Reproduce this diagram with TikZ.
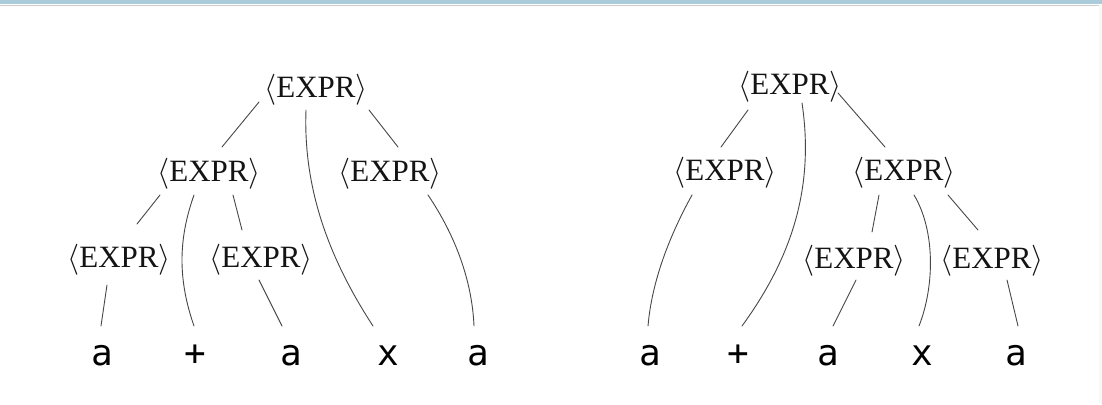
\documentclass[tikz,border=0pt]{standalone}
\usepackage{fix-cm}
\usepackage{fontspec}
\setmainfont{Liberation Serif}
\newfontfamily\termfont{DejaVu Sans Mono}
\usetikzlibrary{calc}
\tikzset{
  nt/.style={anchor=base, inner sep=0pt, text=black!92, font=\fontsize{31}{31}\selectfont},
  tm/.style={anchor=base, inner sep=0pt, text=black, font=\termfont\fontsize{36}{36}\selectfont},
  br/.style={line width=0.9pt, draw=black!72, line cap=round}
}
\newcommand{\EX}{$\langle$EXPR$\rangle$}
\begin{document}
\begin{tikzpicture}[x=1pt,y=-1pt]
\useasboundingbox (0,0) rectangle (1102,404);
\fill[white] (0,0) rectangle (1102,404);
\fill[fill={rgb,255:red,170;green,203;blue,218}] (0,0) rectangle (1102,4.5);
\draw[black!20, line width=0.5pt] (0,5) -- (1102,5);
\fill[fill={rgb,255:red,244;green,249;blue,251}] (1099,5) rectangle (1102,404);

% ---------------- left tree ----------------
\node[nt] (Lr) at (316,97) {\EX};
\node[nt] (La) at (209,181) {\EX};
\node[nt] (Lb) at (390,181) {\EX};
\node[nt] (Lc) at (119,267) {\EX};
\node[nt] (Ld) at (261,267) {\EX};
\node[tm] (Lt1) at (102,365) {a};
\node[tm] (Lt2) at (195,365) {+};
\node[tm] (Lt3) at (291,365) {a};
\node[tm] (Lt4) at (388,365) {x};
\node[tm] (Lt5) at (478,365) {a};

\draw[br] ($(Lr.base)+(-57,5)$) -- ($(La.base)+(13,-34)$);
\draw[br] ($(Lr.base)+(-10,13)$) .. controls ($(Lr.base)+(-13,93)$) and ($(Lt4.base)+(-58,-105)$) .. ($(Lt4.base)+(-15,-39)$);
\draw[br] ($(Lr.base)+(53,13)$) -- ($(Lb.base)+(8,-34)$);
\draw[br] ($(La.base)+(-49,14)$) -- ($(Lc.base)+(18,-43)$);
\draw[br] ($(La.base)+(-15,14)$) .. controls ($(La.base)+(-31,59)$) and ($(Lt2.base)+(-17,-85)$) .. ($(Lt2.base)+(-1,-39)$);
\draw[br] ($(La.base)+(24,14)$) -- ($(Ld.base)+(-19,-37)$);
\draw[br] ($(Lb.base)+(38,14)$) .. controls ($(Lb.base)+(65,54)$) and ($(Lt5.base)+(-6,-85)$) .. ($(Lt5.base)+(-4,-39)$);
\draw[br] ($(Lc.base)+(-12,18)$) -- ($(Lt1.base)+(-1,-39)$);
\draw[br] ($(Ld.base)+(-2,13)$) -- ($(Lt3.base)+(-9,-39)$);

% ---------------- right tree ----------------
\node[nt] (Rr) at (790,94) {\EX};
\node[nt] (Ra) at (725,180) {\EX};
\node[nt] (Rb) at (904,180) {\EX};
\node[nt] (Rc) at (854,268) {\EX};
\node[nt] (Rd) at (992,268) {\EX};
\node[tm] (Rt1) at (650,365) {a};
\node[tm] (Rt2) at (738,365) {+};
\node[tm] (Rt3) at (828,365) {a};
\node[tm] (Rt4) at (922,365) {x};
\node[tm] (Rt5) at (1016,365) {a};

\draw[br] ($(Rr.base)+(-42,16)$) -- ($(Ra.base)+(-4,-33)$);
\draw[br] ($(Rr.base)+(12,9)$) .. controls ($(Rr.base)+(25,96)$) and ($(Rt2.base)+(52,-105)$) .. ($(Rt2.base)+(4,-39)$);
\draw[br] ($(Rr.base)+(48,-1)$) -- ($(Rb.base)+(-19,-33)$);
\draw[br] ($(Ra.base)+(-33,15)$) .. controls ($(Ra.base)+(-55,55)$) and ($(Rt1.base)+(2,-85)$) .. ($(Rt1.base)+(-2,-39)$);
\draw[br] ($(Rb.base)+(-25,15)$) -- ($(Rc.base)+(18,-36)$);
\draw[br] ($(Rb.base)+(10,15)$) .. controls ($(Rb.base)+(31,50)$) and ($(Rt4.base)+(13,-80)$) .. ($(Rt4.base)+(-3,-39)$);
\draw[br] ($(Rb.base)+(44,15)$) -- ($(Rd.base)+(-14,-38)$);
\draw[br] ($(Rc.base)+(2,12)$) -- ($(Rt3.base)+(5,-39)$);
\draw[br] ($(Rd.base)+(15,12)$) -- ($(Rt5.base)+(2,-39)$);
\end{tikzpicture}
\end{document}
